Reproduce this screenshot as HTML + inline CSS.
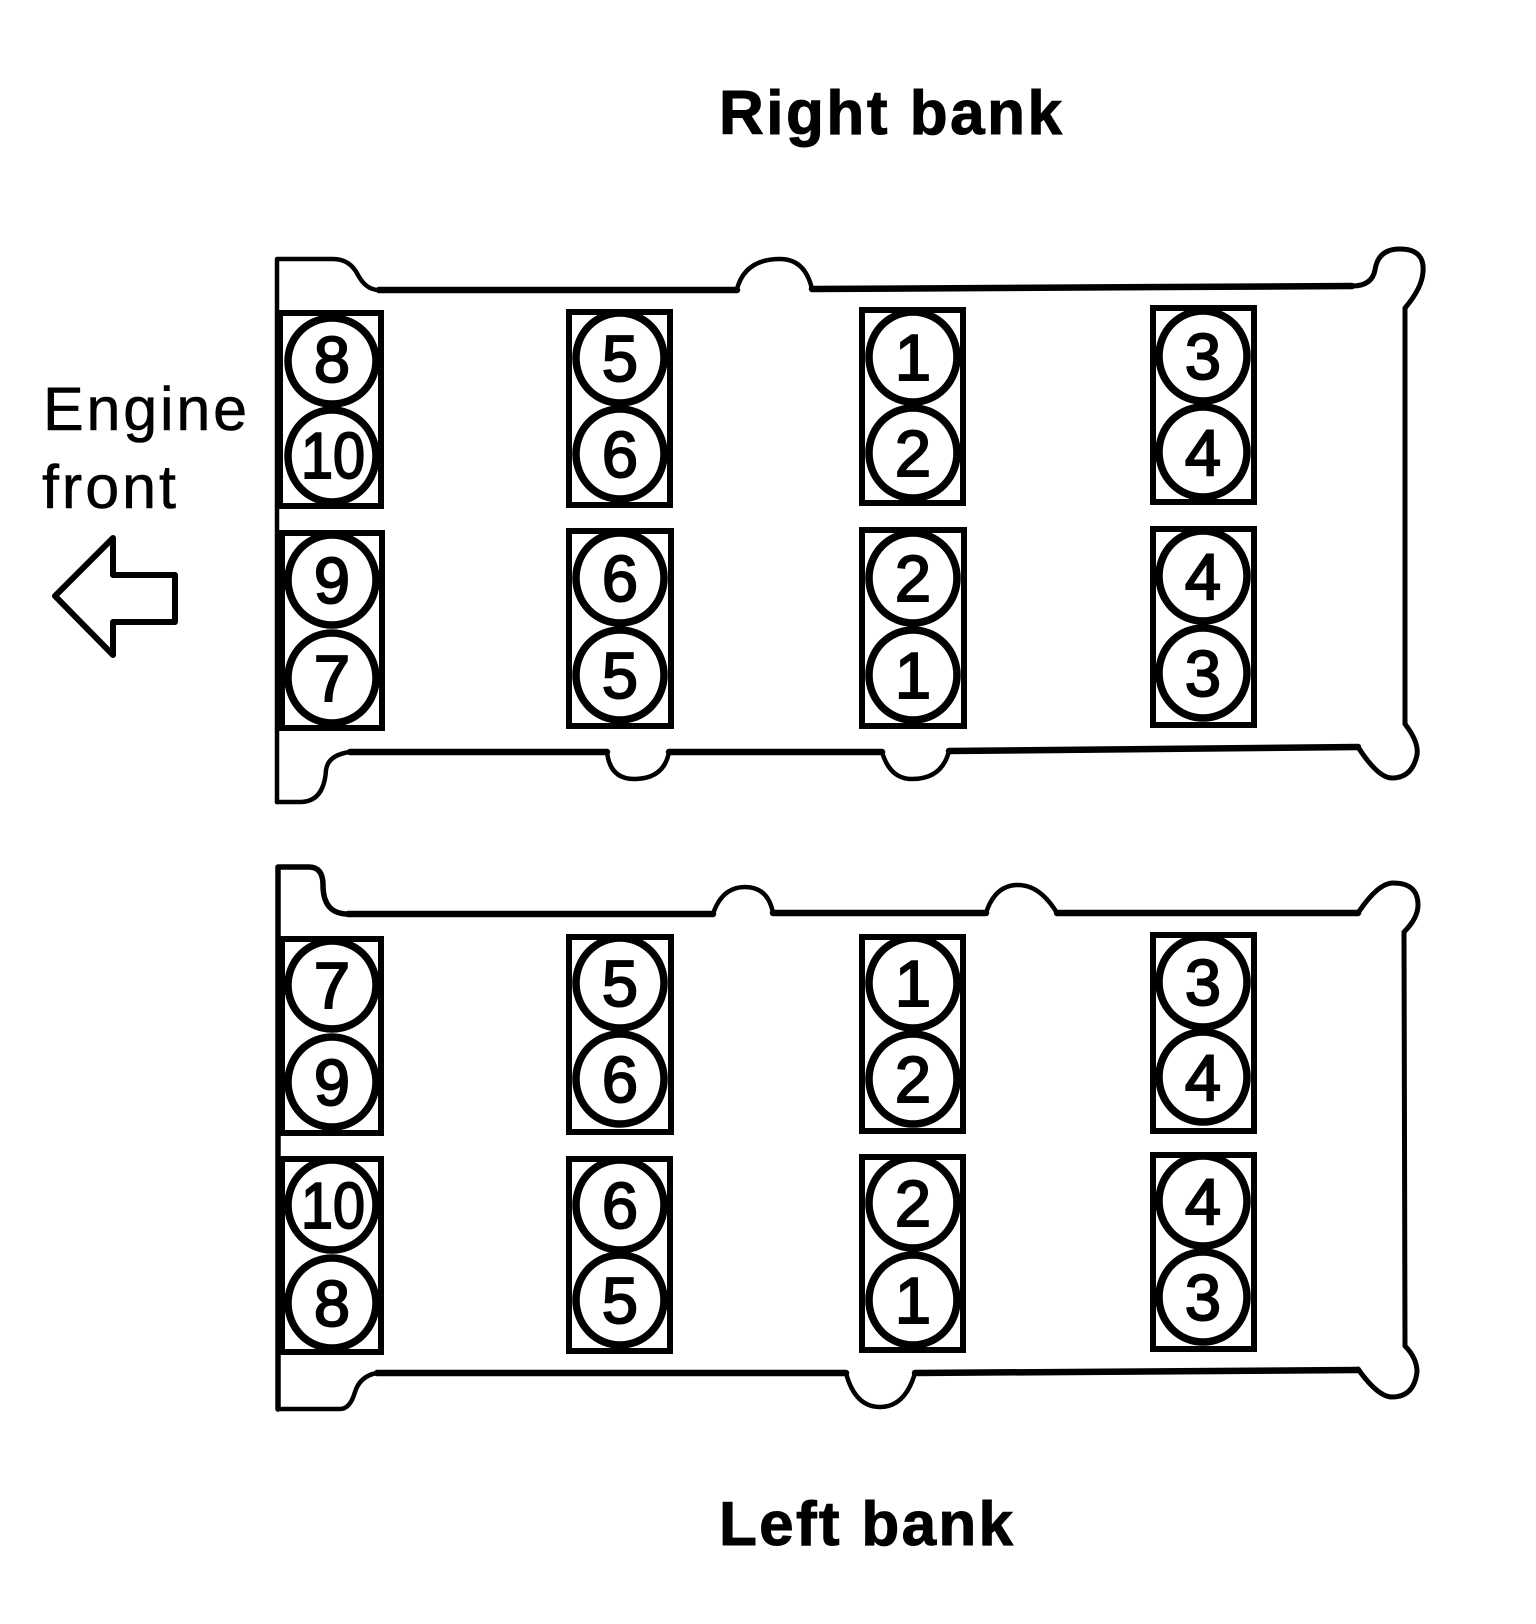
<!DOCTYPE html>
<html><head><meta charset="utf-8"><style>
html,body{margin:0;padding:0;background:#fff}
svg{display:block}
text{font-family:"Liberation Sans",sans-serif;fill:#000}
.d{font-size:65px;text-anchor:middle;stroke:#000;stroke-width:2}
.o{fill:none;stroke:#000;stroke-linejoin:round;stroke-linecap:round}
.r{fill:none;stroke:#000;stroke-width:6}
.c{fill:none;stroke:#000;stroke-width:7.5}
.b{font-size:62px;font-weight:bold;stroke:#000;stroke-width:1}
.e{font-size:61px;stroke:#000;stroke-width:.6}
</style></head><body>
<svg width="1536" height="1624" viewBox="0 0 1536 1624" xmlns="http://www.w3.org/2000/svg">
<rect width="1536" height="1624" fill="#fff"/>
<text class="b" x="719" y="134" textLength="343" lengthAdjust="spacing">Right bank</text>
<text class="b" x="719" y="1545" textLength="294" lengthAdjust="spacing">Left bank</text>
<text class="e" x="43" y="430" textLength="204" lengthAdjust="spacing">Engine</text>
<text class="e" x="42" y="508" textLength="134" lengthAdjust="spacing">front</text>
<path class="o" stroke-width="6" d="M55 596L113 538V575H175V622H113V655Z"/>

<path class="o" stroke-width="4.5" d="M277 802V259H333Q350 259 358 275Q366 290 379 290"/>
<path class="o" stroke-width="6.5" d="M379 290H737"/>
<path class="o" stroke-width="4.5" d="M737 289Q745 259 780 259Q805 259 812 289"/>
<path class="o" stroke-width="6.5" d="M812 289L1352 286"/>
<path class="o" stroke-width="5" d="M1352 286Q1372 286 1375 270Q1378 249 1400 249Q1425 249 1423 272Q1422 288 1405 308V724Q1419 742 1417 755Q1412 778 1392 778Q1378 778 1358 747"/>
<path class="o" stroke-width="6.5" d="M1358 747L949 751"/>
<path class="o" stroke-width="4.5" d="M949 751Q942 779 912 779Q890 779 882 752"/>
<path class="o" stroke-width="6.5" d="M882 752H669"/>
<path class="o" stroke-width="4.5" d="M669 752Q664 779 634 779Q610 779 607 752"/>
<path class="o" stroke-width="6.5" d="M607 752H350"/>
<path class="o" stroke-width="4.5" d="M350 752Q328 755 326 770Q324 802 300 802H277"/>

<path class="o" stroke-width="5.5" d="M278 1409V867H309Q323 867 323 885Q323 914 348 914"/>
<path class="o" stroke-width="6.5" d="M348 914H713"/>
<path class="o" stroke-width="4.5" d="M713 914Q722 887 745 887Q768 887 773 913"/>
<path class="o" stroke-width="6.5" d="M773 913H986"/>
<path class="o" stroke-width="4.5" d="M986 913Q995 885 1018 885Q1040 885 1057 913"/>
<path class="o" stroke-width="6.5" d="M1057 913H1358"/>
<path class="o" stroke-width="5" d="M1358 913Q1378 883 1393 883Q1418 883 1418 905Q1418 918 1404 932L1405 1346Q1417 1358 1417 1372Q1414 1397 1392 1397Q1378 1397 1358 1369"/>
<path class="o" stroke-width="6.5" d="M1358 1370L915 1373"/>
<path class="o" stroke-width="4.5" d="M915 1373Q905 1407 880 1407Q855 1407 846 1373"/>
<path class="o" stroke-width="6.5" d="M846 1373H377"/>
<path class="o" stroke-width="4.5" d="M377 1373Q360 1376 355 1392Q350 1409 340 1409H278"/>

<rect class="r" x="280" y="313" width="101" height="193"/>
<rect class="r" x="282" y="533" width="100" height="195"/>
<rect class="r" x="569" y="312" width="101" height="193"/>
<rect class="r" x="569" y="531" width="102" height="195"/>
<rect class="r" x="862" y="310" width="101" height="193"/>
<rect class="r" x="862" y="530" width="102" height="196"/>
<rect class="r" x="1153" y="308" width="101" height="194"/>
<rect class="r" x="1153" y="529" width="101" height="196"/>

<rect class="r" x="282" y="939" width="99" height="194"/>
<rect class="r" x="282" y="1159" width="99" height="193"/>
<rect class="r" x="569" y="937" width="102" height="195"/>
<rect class="r" x="569" y="1159" width="101" height="192"/>
<rect class="r" x="862" y="937" width="101" height="194"/>
<rect class="r" x="862" y="1157" width="101" height="193"/>
<rect class="r" x="1153" y="935" width="101" height="196"/>
<rect class="r" x="1153" y="1155" width="101" height="194"/>

<g>
<ellipse class="c" cx="332" cy="361" rx="44" ry="43"/><ellipse class="c" cx="332" cy="456" rx="44" ry="46"/>
<ellipse class="c" cx="332" cy="580" rx="44" ry="45"/><ellipse class="c" cx="332" cy="678" rx="44" ry="45"/>
<ellipse class="c" cx="620" cy="358" rx="44" ry="45"/><ellipse class="c" cx="620" cy="454" rx="44" ry="45"/>
<ellipse class="c" cx="620" cy="578" rx="44" ry="45"/><ellipse class="c" cx="620" cy="675" rx="44" ry="45"/>
<ellipse class="c" cx="913" cy="357" rx="44" ry="45"/><ellipse class="c" cx="913" cy="453" rx="44" ry="45"/>
<ellipse class="c" cx="913" cy="578" rx="44" ry="45"/><ellipse class="c" cx="913" cy="675" rx="44" ry="45"/>
<ellipse class="c" cx="1203" cy="356" rx="44" ry="45"/><ellipse class="c" cx="1203" cy="452" rx="44" ry="45"/>
<ellipse class="c" cx="1203" cy="576" rx="44" ry="45"/><ellipse class="c" cx="1203" cy="673" rx="44" ry="45"/>

<ellipse class="c" cx="332" cy="985" rx="44" ry="44"/><ellipse class="c" cx="332" cy="1082" rx="44" ry="45"/>
<ellipse class="c" cx="332" cy="1205" rx="44" ry="45"/><ellipse class="c" cx="332" cy="1303" rx="44" ry="45"/>
<ellipse class="c" cx="620" cy="983" rx="44" ry="45"/><ellipse class="c" cx="620" cy="1079" rx="44" ry="45"/>
<ellipse class="c" cx="620" cy="1205" rx="44" ry="45"/><ellipse class="c" cx="620" cy="1300" rx="44" ry="45"/>
<ellipse class="c" cx="913" cy="983" rx="44" ry="45"/><ellipse class="c" cx="913" cy="1079" rx="44" ry="45"/>
<ellipse class="c" cx="913" cy="1203" rx="44" ry="45"/><ellipse class="c" cx="913" cy="1300" rx="44" ry="45"/>
<ellipse class="c" cx="1203" cy="982" rx="44" ry="45"/><ellipse class="c" cx="1203" cy="1077" rx="44" ry="45"/>
<ellipse class="c" cx="1203" cy="1201" rx="44" ry="45"/><ellipse class="c" cx="1203" cy="1297" rx="44" ry="45"/>
</g>

<text class="d" x="332" y="382">8</text>
<text class="d" x="333" y="478" textLength="64" lengthAdjust="spacingAndGlyphs">10</text>
<text class="d" x="332" y="603">9</text>
<text class="d" x="332" y="701">7</text>
<text class="d" x="620" y="381">5</text>
<text class="d" x="620" y="477">6</text>
<text class="d" x="620" y="601">6</text>
<text class="d" x="620" y="698">5</text>
<text class="d" x="913" y="380">1</text>
<text class="d" x="913" y="476">2</text>
<text class="d" x="913" y="601">2</text>
<text class="d" x="913" y="698">1</text>
<text class="d" x="1203" y="379">3</text>
<text class="d" x="1203" y="475">4</text>
<text class="d" x="1203" y="599">4</text>
<text class="d" x="1203" y="696">3</text>

<text class="d" x="332" y="1008">7</text>
<text class="d" x="332" y="1105">9</text>
<text class="d" x="333" y="1228" textLength="64" lengthAdjust="spacingAndGlyphs">10</text>
<text class="d" x="332" y="1326">8</text>
<text class="d" x="620" y="1006">5</text>
<text class="d" x="620" y="1102">6</text>
<text class="d" x="620" y="1228">6</text>
<text class="d" x="620" y="1323">5</text>
<text class="d" x="913" y="1006">1</text>
<text class="d" x="913" y="1102">2</text>
<text class="d" x="913" y="1226">2</text>
<text class="d" x="913" y="1323">1</text>
<text class="d" x="1203" y="1005">3</text>
<text class="d" x="1203" y="1100">4</text>
<text class="d" x="1203" y="1224">4</text>
<text class="d" x="1203" y="1320">3</text>
</svg>
</body></html>
